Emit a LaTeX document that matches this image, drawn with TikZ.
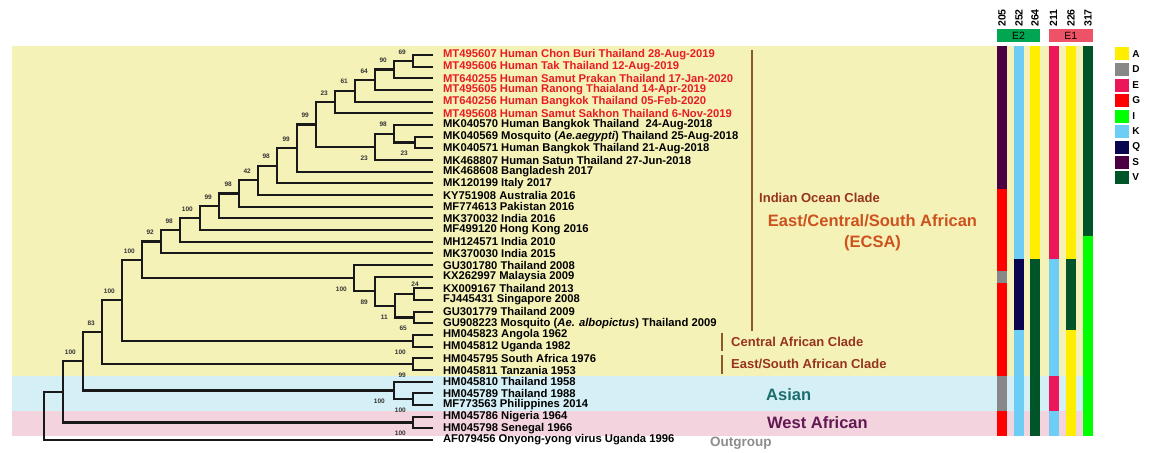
\documentclass[tikz,border=0pt]{standalone}
\usepackage{fontspec}
\setmainfont{Liberation Sans}
\usetikzlibrary{%
	calc,%
	positioning,%
}
\definecolor{cyellowbg}{RGB}{245, 242, 184}
\definecolor{cbluebg}{RGB}{212, 239, 245}
\definecolor{cpinkbg}{RGB}{243, 211, 222}
\definecolor{cred}{RGB}{232, 28, 36}
\definecolor{cbrown}{RGB}{139, 90, 43}
\definecolor{cclade}{RGB}{150, 52, 28}
\definecolor{cecsa}{RGB}{205, 82, 30}
\definecolor{casian}{RGB}{28, 110, 110}
\definecolor{cwest}{RGB}{98, 25, 82}
\definecolor{ce2}{RGB}{0, 166, 81}
\definecolor{ce1}{RGB}{238, 82, 102}
\definecolor{aaA}{RGB}{255, 238, 0}
\definecolor{aaD}{RGB}{136, 136, 136}
\definecolor{aaE}{RGB}{236, 22, 90}
\definecolor{aaG}{RGB}{255, 0, 0}
\definecolor{aaI}{RGB}{0, 255, 0}
\definecolor{aaK}{RGB}{110, 205, 245}
\definecolor{aaQ}{RGB}{10, 5, 80}
\definecolor{aaS}{RGB}{75, 0, 65}
\definecolor{aaV}{RGB}{0, 85, 40}
\newcommand{\leaffont}{\fontsize{11.25}{13}\selectfont\bfseries}
\newcommand{\bsfont}{\fontsize{6.5}{7}\selectfont\bfseries}
\newcommand{\colfont}{\fontsize{10.5}{11}\selectfont\bfseries}
\newcommand{\species}[1]{\textit{#1}}
\tikzset{
	tree/.style={%
			line width=2.2pt,%
			black!90},%
	rtree/.style={%
			line width=1.5pt,%
			black!90},%
	leaf/.style={%
			anchor=west,%
			inner sep=0pt,%
			outer xsep=10pt,%
			font=\leaffont},%
	redleaf/.style={%
			leaf,%
			text=cred},%
	bs/.style={%
			inner sep=0pt,%
			font=\bsfont,%
			text=black!80},%
	bsa/.style={%
			bs,%
			anchor=south east,%
			xshift=-7pt,%
			yshift=6.5pt},%
	bsb/.style={%
			bs,%
			anchor=north east,%
			xshift=-7pt,%
			yshift=-8.5pt},%
	clade/.style={%
			anchor=west,%
			inner sep=0pt,%
			font=\fontsize{13}{15}\selectfont\bfseries,%
			text=cclade},%
	bigclade/.style={%
			anchor=west,%
			inner sep=0pt,%
			font=\fontsize{16.5}{21}\selectfont\bfseries},%
	colnum/.style={%
			rotate=90,%
			inner sep=0pt,%
			font=\colfont},%
	genebox/.style={%
			minimum height=13pt,%
			inner sep=0pt,%
			font=\fontsize{10.5}{12}\selectfont},%
	legbox/.style={%
			minimum width=14pt,%
			minimum height=13pt,%
			inner sep=0pt},%
	legtxt/.style={%
			inner sep=0pt,%
			font=\fontsize{10}{11}\selectfont\bfseries},%
	bracket/.style={%
			line width=2pt,%
			cbrown},%
}

\begin{document}
\begin{tikzpicture}[x=1pt, y=-1pt]
	\useasboundingbox (0,0) rectangle (1150,452);

	% lineage bands
	\fill[cyellowbg] (12,46) rectangle (1093,376);
	\fill[cbluebg] (12,376) rectangle (1093,411);
	\fill[cpinkbg] (12,411) rectangle (1093,436);

	% leaves
	\node[redleaf] (mt495607) at (433,55) {MT495607 Human Chon Buri Thailand 28-Aug-2019};
	\node[redleaf] (mt495606) at (433,66.67) {MT495606 Human Tak Thailand 12-Aug-2019};
	\node[redleaf] (mt640255) at (433,78.33) {MT640255 Human Samut Prakan Thailand 17-Jan-2020};
	\node[redleaf] (mt495605) at (433,90) {MT495605 Human Ranong Thaialand 14-Apr-2019};
	\node[redleaf] (mt640256) at (433,101.67) {MT640256 Human Bangkok Thailand 05-Feb-2020};
	\node[redleaf] (mt495608) at (433,113.33) {MT495608 Human Samut Sakhon Thailand 6-Nov-2019};
	\node[leaf] (mk040570) at (433,125) {MK040570 Human Bangkok Thailand~ 24-Aug-2018};
	\node[leaf] (mk040569) at (433,136.67) {MK040569 Mosquito (\species{Ae.aegypti}) Thailand 25-Aug-2018};
	\node[leaf] (mk040571) at (433,148.33) {MK040571 Human Bangkok Thailand 21-Aug-2018};
	\node[leaf] (mk468807) at (433,160) {MK468807 Human Satun Thailand 27-Jun-2018};
	\node[leaf] (mk468608) at (433,171.67) {MK468608 Bangladesh 2017};
	\node[leaf] (mk120199) at (433,183.33) {MK120199 Italy 2017};
	\node[leaf] (ky751908) at (433,195) {KY751908 Australia 2016};
	\node[leaf] (mf774613) at (433,206.67) {MF774613 Pakistan 2016};
	\node[leaf] (mk370032) at (433,218.33) {MK370032 India 2016};
	\node[leaf] (mf499120) at (433,230) {MF499120 Hong Kong 2016};
	\node[leaf] (mh124571) at (433,241.67) {MH124571 India 2010};
	\node[leaf] (mk370030) at (433,253.33) {MK370030 India 2015};
	\node[leaf] (gu301780) at (433,265) {GU301780 Thailand 2008};
	\node[leaf] (kx262997) at (433,276.67) {KX262997 Malaysia 2009};
	\node[leaf] (kx009167) at (433,288.33) {KX009167 Thailand 2013};
	\node[leaf] (fj445431) at (433,300) {FJ445431 Singapore 2008};
	\node[leaf] (gu301779) at (433,311.67) {GU301779 Thailand 2009};
	\node[leaf] (gu908223) at (433,323.33) {GU908223 Mosquito (\species{Ae. albopictus}) Thailand 2009};
	\node[leaf] (hm045823) at (433,335) {HM045823 Angola 1962};
	\node[leaf] (hm045812) at (433,346.67) {HM045812 Uganda 1982};
	\node[leaf] (hm045795) at (433,358.33) {HM045795 South Africa 1976};
	\node[leaf] (hm045811) at (433,370) {HM045811 Tanzania 1953};
	\node[leaf] (hm045810) at (433,381.67) {HM045810 Thailand 1958};
	\node[leaf] (hm045789) at (433,393.33) {HM045789 Thailand 1988};
	\node[leaf] (mf773563) at (433,405) {MF773563 Philippines 2014};
	\node[leaf] (hm045786) at (433,416.67) {HM045786 Nigeria 1964};
	\node[leaf] (hm045798) at (433,428.33) {HM045798 Senegal 1966};
	\node[leaf] (af079456) at (433,440) {AF079456 Onyong-yong virus Uganda 1996};

	% internal nodes
	\coordinate (n12) at (413,60.83);
	\coordinate (n123) at (394,69.58);
	\coordinate (n1234) at (375,79.79);
	\coordinate (n12345) at (355,90.73);
	\coordinate (nred) at (335,102.03);
	\coordinate (n89) at (415,142.5);
	\coordinate (n789) at (394,133.75);
	\coordinate (n710) at (375,146.88);
	\coordinate (nthai) at (316,124.45);
	\coordinate (nbgd) at (297,148.06);
	\coordinate (nita) at (277,165.7);
	\coordinate (naus) at (258,180.35);
	\coordinate (npak) at (239,193.51);
	\coordinate (nind16) at (219,205.92);
	\coordinate (nhkg) at (200,217.96);
	\coordinate (nind10) at (180,229.81);
	\coordinate (nind15) at (161,241.57);
	\coordinate (n2122) at (414,294.17);
	\coordinate (n2324) at (414,317.5);
	\coordinate (n2124) at (395,305.83);
	\coordinate (n2024) at (375,291.25);
	\coordinate (n1924) at (354,278.13);
	\coordinate (niol) at (142,259.85);
	\coordinate (nca) at (413,340.83);
	\coordinate (necsa1) at (122,300.34);
	\coordinate (nesa) at (413,364.17);
	\coordinate (necsa) at (102,332.25);
	\coordinate (nas2) at (413,399.17);
	\coordinate (nas) at (394,390.42);
	\coordinate (nea) at (83,361.33);
	\coordinate (nwa) at (413,422.5);
	\coordinate (nin) at (63,391.9);
	\coordinate (root) at (44,415.96);

	% branches
	\draw[tree] (n12) |- (mt495607.west) (n12) |- (mt495606.west);
	\draw[tree] (n123) |- (n12) (n123) |- (mt640255.west);
	\draw[tree] (n1234) |- (n123) (n1234) |- (mt495605.west);
	\draw[tree] (n12345) |- (n1234) (n12345) |- (mt640256.west);
	\draw[tree] (nred) |- (n12345) (nred) |- (mt495608.west);
	\draw[tree] (n89) |- (mk040569.west) (n89) |- (mk040571.west);
	\draw[tree] (n789) |- (mk040570.west) (n789) |- (n89);
	\draw[tree] (n710) |- (n789) (n710) |- (mk468807.west);
	\draw[tree] (nthai) |- (nred) (nthai) |- (n710);
	\draw[tree] (nbgd) |- (nthai) (nbgd) |- (mk468608.west);
	\draw[tree] (nita) |- (nbgd) (nita) |- (mk120199.west);
	\draw[tree] (naus) |- (nita) (naus) |- (ky751908.west);
	\draw[tree] (npak) |- (naus) (npak) |- (mf774613.west);
	\draw[tree] (nind16) |- (npak) (nind16) |- (mk370032.west);
	\draw[tree] (nhkg) |- (nind16) (nhkg) |- (mf499120.west);
	\draw[tree] (nind10) |- (nhkg) (nind10) |- (mh124571.west);
	\draw[tree] (nind15) |- (nind10) (nind15) |- (mk370030.west);
	\draw[tree] (n2122) |- (kx009167.west) (n2122) |- (fj445431.west);
	\draw[tree] (n2324) |- (gu301779.west) (n2324) |- (gu908223.west);
	\draw[tree] (n2124) |- (n2122) (n2124) |- (n2324);
	\draw[tree] (n2024) |- (kx262997.west) (n2024) |- (n2124);
	\draw[tree] (n1924) |- (gu301780.west) (n1924) |- (n2024);
	\draw[tree] (niol) |- (nind15) (niol) |- (n1924);
	\draw[tree] (nca) |- (hm045823.west) (nca) |- (hm045812.west);
	\draw[tree] (necsa1) |- (niol) (necsa1) |- (nca);
	\draw[tree] (nesa) |- (hm045795.west) (nesa) |- (hm045811.west);
	\draw[tree] (necsa) |- (necsa1) (necsa) |- (nesa);
	\draw[tree] (nas2) |- (hm045789.west) (nas2) |- (mf773563.west);
	\draw[tree] (nas) |- (hm045810.west) (nas) |- (nas2);
	\draw[tree] (nea) |- (necsa) (nea) |- (nas);
	\draw[tree] (nwa) |- (hm045786.west) (nwa) |- (hm045798.west);
	\draw[tree] (nin) |- (nea) (nin) |- (nwa);
	\draw[rtree] (root) |- (nin) (root) |- (af079456.west);

	% bootstrap values
	\node[bsa] (b12) at (n12) {69};
	\node[bsa] (b123) at (n123) {90};
	\node[bsa] (b1234) at (n1234) {64};
	\node[bsa] (b12345) at (n12345) {61};
	\node[bsa] (bred) at (nred) {23};
	\node[bsb] (b89) at (n89) {23};
	\node[bsa] (b789) at (n789) {98};
	\node[bsb] (b710) at (n710) {23};
	\node[bsa] (bthai) at (nthai) {99};
	\node[bsa] (bbgd) at (nbgd) {99};
	\node[bsa] (bita) at (nita) {98};
	\node[bsa] (baus) at (naus) {42};
	\node[bsa] (bpak) at (npak) {98};
	\node[bsa] (bind16) at (nind16) {99};
	\node[bsa] (bhkg) at (nhkg) {100};
	\node[bsa] (bind10) at (nind10) {98};
	\node[bsa] (bind15) at (nind15) {92};
	\node[bs, anchor=south, xshift=1pt, yshift=7.5pt] (b2122) at (n2122) {24};
	\node[bsb] (b2324) at (n2324) {65};
	\node[bsb] (b2124) at (n2124) {11};
	\node[bsb] (b2024) at (n2024) {89};
	\node[bsb] (b1924) at (n1924) {100};
	\node[bsa] (biol) at (niol) {100};
	\node[bsb] (bca) at (nca) {100};
	\node[bsa] (becsa1) at (necsa1) {100};
	\node[bsb] (besa) at (nesa) {99};
	\node[bsa] (becsa) at (necsa) {83};
	\node[bsb] (bas2) at (nas2) {100};
	\node[bsb, xshift=-2pt] (bas) at (nas) {100};
	\node[bsa] (bea) at (nea) {100};
	\node[bsb] (bwa) at (nwa) {100};

	% clades
	\draw[bracket] (752,50) -- (752,331);
	\draw[bracket] (722,333) -- (722,351);
	\draw[bracket] (722,355) -- (722,374);
	\node[clade] (iol) at (759,198) {Indian Ocean Clade};
	\node[bigclade, anchor=center, align=center, text=cecsa] (ecsa) at (872.5,232.5) {East/Central/South African\\(ECSA)};
	\node[clade] (caf) at (731,342) {Central African Clade};
	\node[clade] (esaf) at (731,364) {East/South African Clade};
	\node[bigclade, text=casian] (asian) at (766,395) {Asian};
	\node[bigclade, text=cwest] (waf) at (767,423) {West African};
	\node[clade, font=\fontsize{13.5}{15}\selectfont\bfseries, text=black!45] (outg) at (710,443) {Outgroup};

	% residue columns
	\fill[aaS] (997,46) rectangle (1007,189.2);
	\fill[aaG] (997,189.2) rectangle (1007,270.8);
	\fill[aaD] (997,270.8) rectangle (1007,282.5);
	\fill[aaG] (997,282.5) rectangle (1007,375.8);
	\fill[aaD] (997,375.8) rectangle (1007,410.8);
	\fill[aaG] (997,410.8) rectangle (1007,436);
	\fill[aaK] (1014,46) rectangle (1024,259.2);
	\fill[aaQ] (1014,259.2) rectangle (1024,329.5);
	\fill[aaK] (1014,329.5) rectangle (1024,436);
	\fill[aaA] (1030,46) rectangle (1040,259.2);
	\fill[aaV] (1030,259.2) rectangle (1040,436);
	\fill[aaE] (1048.5,46) rectangle (1058.5,259.2);
	\fill[aaK] (1048.5,259.2) rectangle (1058.5,375.8);
	\fill[aaE] (1048.5,375.8) rectangle (1058.5,410.8);
	\fill[aaK] (1048.5,410.8) rectangle (1058.5,436);
	\fill[aaA] (1066,46) rectangle (1076,259.2);
	\fill[aaV] (1066,259.2) rectangle (1076,329.5);
	\fill[aaA] (1066,329.5) rectangle (1076,436);
	\fill[aaV] (1083,46) rectangle (1093,235.8);
	\fill[aaI] (1083,235.8) rectangle (1093,436);

	\node[colnum] (c205) at (1002,18) {205};
	\node[colnum] (c252) at (1019,18) {252};
	\node[colnum] (c264) at (1035,18) {264};
	\node[colnum] (c211) at (1053.5,18) {211};
	\node[colnum] (c226) at (1071,18) {226};
	\node[colnum] (c317) at (1088,18) {317};
	\node[genebox, fill=ce2, minimum width=43pt] (e2) at (1018.5,35.5) {E2};
	\node[genebox, fill=ce1, minimum width=44.5pt] (e1) at (1070.75,35.5) {E1};

	% legend
	\node[legbox, fill=aaA] (legA) at (1122,54) {};
	\node[legbox, fill=aaD] (legD) at (1122,69.5) {};
	\node[legbox, fill=aaE] (legE) at (1122,85) {};
	\node[legbox, fill=aaG] (legG) at (1122,100.5) {};
	\node[legbox, fill=aaI] (legI) at (1122,116) {};
	\node[legbox, fill=aaK] (legK) at (1122,131.5) {};
	\node[legbox, fill=aaQ] (legQ) at (1122,147) {};
	\node[legbox, fill=aaS] (legS) at (1122,162) {};
	\node[legbox, fill=aaV] (legV) at (1122,177) {};
	\node[legtxt] (txtA) [right=3pt of legA] {A};
	\node[legtxt] (txtD) [right=3pt of legD] {D};
	\node[legtxt] (txtE) [right=3pt of legE] {E};
	\node[legtxt] (txtG) [right=3pt of legG] {G};
	\node[legtxt] (txtI) [right=3pt of legI] {I};
	\node[legtxt] (txtK) [right=3pt of legK] {K};
	\node[legtxt] (txtQ) [right=3pt of legQ] {Q};
	\node[legtxt] (txtS) [right=3pt of legS] {S};
	\node[legtxt] (txtV) [right=3pt of legV] {V};
\end{tikzpicture}
\end{document}
